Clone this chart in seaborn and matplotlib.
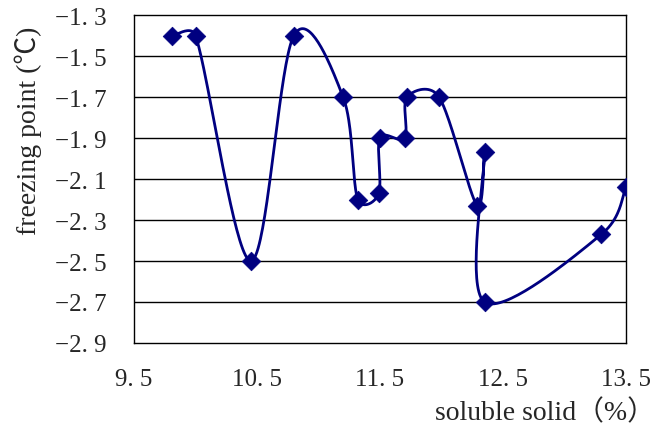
import numpy as np
import pandas as pd
import seaborn as sns
import matplotlib.pyplot as plt

# Data (in plotting order)
solid = [9.81, 10.0, 10.45, 10.8, 11.2, 11.32, 11.49, 11.5,
         11.7, 11.72, 11.98, 12.29, 12.35, 12.35, 13.3, 13.5]
freeze = [-1.4, -1.4, -2.5, -1.4, -1.7, -2.2, -2.17, -1.9,
          -1.9, -1.7, -1.7, -2.23, -1.97, -2.7, -2.37, -2.14]

xticks = [9.5, 10.5, 11.5, 12.5, 13.5]
xlabels = ['9. 5', '10. 5', '11. 5', '12. 5', '13. 5']
yticks = [-2.9, -2.7, -2.5, -2.3, -2.1, -1.9, -1.7, -1.5, -1.3]
ylabels = ['\u22122. 9', '\u22122. 7', '\u22122. 5', '\u22122. 3', '\u22122. 1',
           '\u22121. 9', '\u22121. 7', '\u22121. 5', '\u22121. 3']

# pixels per data unit, used so the smoothing works in screen space like Excel
SX, SY = 123.0, 205.0


def smooth(x, y, n=40):
    # Excel-like smoothed line: Bezier segments, tangents capped at half a segment
    pts = np.column_stack([np.array(x) * SX, np.array(y) * SY])
    ext = np.vstack([pts[0], pts, pts[-1]])
    t = np.linspace(0, 1, n)[:, None]
    out = []
    for i in range(1, len(ext) - 2):
        p0, p1, p2, p3 = ext[i - 1], ext[i], ext[i + 1], ext[i + 2]
        d02 = np.linalg.norm(p2 - p0)
        d12 = np.linalg.norm(p2 - p1)
        d13 = np.linalg.norm(p3 - p1)
        f1 = 1 / 6 if d02 / 6 < d12 / 2 else d12 / 2 / d02
        f2 = 1 / 6 if d13 / 6 < d12 / 2 else d12 / 2 / d13
        c1 = p1 + (p2 - p0) * f1
        c2 = p2 - (p3 - p1) * f2
        seg = ((1 - t)**3) * p1 + 3 * ((1 - t)**2) * t * c1 \
            + 3 * (1 - t) * t**2 * c2 + t**3 * p2
        out.append(seg if i == 1 else seg[1:])
    out = np.vstack(out)
    return out[:, 0] / SX, out[:, 1] / SY


sns.set_style('white')
plt.rcParams['font.family'] = ['Liberation Serif', 'Noto Sans CJK SC']

df = pd.DataFrame({'solid': solid, 'freeze': freeze})
cx, cy = smooth(solid, freeze)
df_curve = pd.DataFrame({'solid': cx, 'freeze': cy})

fig, ax = plt.subplots(figsize=(6.55, 4.35), dpi=100)
fig.subplots_adjust(left=0.2046, right=0.9557, top=0.9632, bottom=0.2092)

for yv in yticks[1:-1]:
    ax.axhline(yv, color='black', lw=1.0, zorder=0)

sns.lineplot(data=df_curve, x='solid', y='freeze', sort=False, estimator=None,
             color='#000080', lw=2.0, ax=ax, zorder=2)
sns.scatterplot(data=df, x='solid', y='freeze', marker='D', s=90,
                color='#000080', edgecolor='#000080', linewidth=0.5,
                ax=ax, zorder=3)

ax.set_xlim(9.5, 13.5)
ax.set_ylim(-2.9, -1.3)
ax.set_xticks(xticks)
ax.set_xticklabels(xlabels, fontsize=18)
ax.set_yticks(yticks)
ax.set_yticklabels(ylabels, fontsize=18)
ax.tick_params(axis='x', direction='in', length=6, width=1, pad=18, color='black')
ax.tick_params(axis='y', direction='in', length=0, pad=20)

for sp in ax.spines.values():
    sp.set_color('black')
    sp.set_linewidth(1.0)

ax.set_xlabel('soluble solid\uff08%\uff09', fontsize=20)
ax.xaxis.set_label_coords(1.058, -0.21, transform=ax.transAxes)
ax.xaxis.label.set_horizontalalignment('right')
ax.xaxis.label.set_verticalalignment('center')
ax.set_ylabel('freezing point (\u2103)', fontsize=20)
ax.yaxis.set_label_coords(-0.215, 0.65)
ax.yaxis.label.set_verticalalignment('center')

fig.savefig('out.png')
